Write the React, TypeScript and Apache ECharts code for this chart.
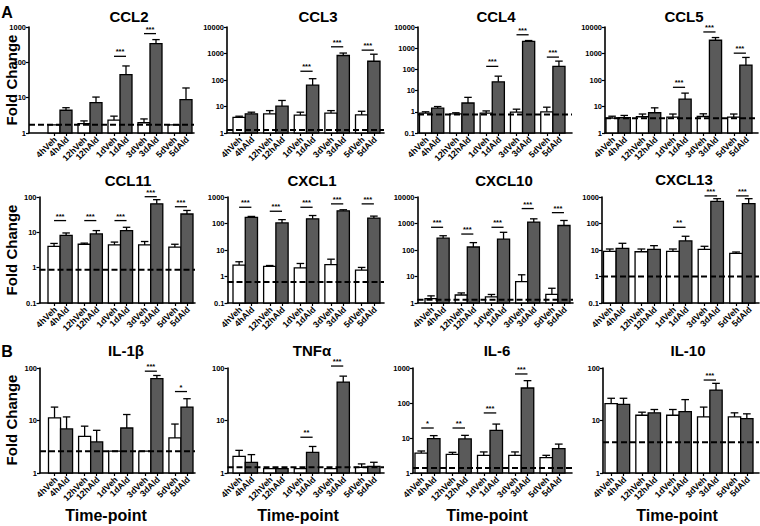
import React, { useEffect, useRef } from "react";
import * as echarts from "echarts";

// ---------------- DATA ----------------
const categories = ["4hVeh", "4hAld", "12hVeh", "12hAld", "1dVeh", "1dAld", "3dVeh", "3dAld", "5dVeh", "5dAld"];

// [groupIndex, number of stars, height of the significance bar]
type Sig = [number, number, number][];

const ccl2Mean = [1.7, 4.4, 1.85, 7.2, 2.3, 45, 1.95, 340, 1.7, 8.8];
const ccl2Sem = [0, 0.8, 0.35, 3.2, 0.7, 34, 0.55, 100, 0, 10];
const ccl2Sig: Sig = [[2, 3, 148], [3, 3, 650]];
const ccl2Base = 1.7;

const ccl3Mean = [3.9, 5.3, 5.3, 10.3, 4.7, 64, 5.6, 840, 4.8, 510];
const ccl3Sem = [0.4, 0.8, 1.7, 6.6, 1.4, 48, 1.4, 200, 1.8, 430];
const ccl3Sig: Sig = [[2, 3, 214], [3, 3, 1790], [4, 3, 1340]];
const ccl3Base = 1.3;

const ccl4Mean = [0.87, 1.48, 0.8, 2.6, 0.87, 26, 0.96, 2100, 1.0, 139];
const ccl4Sem = [0.13, 0.29, 0.1, 2.2, 0.23, 22, 0.37, 200, 0.65, 107];
const ccl4Sig: Sig = [[2, 3, 139], [3, 3, 4300], [4, 3, 380]];
const ccl4Base = 0.75;

const ccl5Mean = [3.65, 3.8, 4.1, 5.8, 4.0, 19, 4.2, 3160, 4.0, 365];
const ccl5Sem = [0.65, 0.8, 1.1, 3.1, 1.2, 13, 1.1, 840, 1.2, 345];
const ccl5Sig: Sig = [[2, 3, 53], [3, 3, 6500], [4, 3, 1030]];
const ccl5Base = 3.6;

const ccl11Mean = [4.0, 8.2, 4.6, 9.0, 4.4, 11.2, 4.4, 64, 3.8, 33];
const ccl11Sem = [0.85, 1.4, 0.35, 2.2, 0.9, 2.7, 1.1, 20, 0.8, 8.6];
const ccl11Sig: Sig = [[0, 3, 21.5], [1, 3, 21.5], [2, 3, 21.5], [3, 3, 102], [4, 3, 53]];
const ccl11Base = 0.87;

const cxcl1Mean = [2.7, 170, 2.4, 105, 2.1, 150, 2.8, 300, 1.75, 160];
const cxcl1Sem = [0.9, 15, 0.2, 35, 1.0, 50, 1.7, 30, 0.45, 30];
const cxcl1Sig: Sig = [[0, 3, 410], [1, 3, 290], [2, 3, 410], [3, 3, 550], [4, 3, 550]];
const cxcl1Base = 0.62;

const cxcl10Mean = [1.47, 280, 2.0, 130, 1.7, 257, 6.4, 1130, 2.1, 840];
const cxcl10Sem = [0.39, 65, 0.4, 60, 0.4, 208, 5.2, 370, 1.5, 460];
const cxcl10Sig: Sig = [[0, 3, 720], [1, 3, 400], [2, 3, 720], [3, 3, 3660], [4, 3, 2570]];
const cxcl10Base = 1.34;

const cxcl13Mean = [8.9, 11.6, 8.6, 10.6, 8.9, 22, 10.6, 684, 7.5, 560];
const cxcl13Sem = [2.0, 6.3, 2.3, 4.0, 2.0, 11, 3.2, 180, 0.9, 305];
const cxcl13Sig: Sig = [[2, 2, 72], [3, 3, 1100], [4, 3, 1100]];
const cxcl13Base = 1.0;

const il1bMean = [11.2, 6.9, 5.0, 3.9, 2.6, 7.2, 2.6, 62.5, 4.66, 18];
const il1bSem = [6.8, 4.8, 2.8, 2.6, 0, 5.8, 0, 9.5, 3.9, 8];
const il1bSig: Sig = [[3, 3, 87], [4, 1, 35.6]];
const il1bBase = 2.6;

const tnfMean = [2.08, 1.6, 1.21, 1.21, 1.21, 2.48, 1.21, 54, 1.28, 1.34];
const tnfSem = [0.62, 0.64, 0, 0, 0, 0.72, 0, 16, 0.21, 0.26];
const tnfSig: Sig = [[2, 2, 4.8], [3, 3, 109]];
const tnfBase = 1.28;

const il6Mean = [3.7, 9.6, 3.4, 9.4, 3.2, 16.6, 3.2, 268, 2.74, 4.96];
const il6Sem = [0.55, 2.1, 0.5, 2.5, 0.8, 8.4, 0.8, 167, 0.46, 1.74];
const il6Sig: Sig = [[0, 1, 19.3], [1, 2, 19.3], [2, 3, 52], [3, 3, 675]];
const il6Base = 1.39;

const il10Mean = [21, 20.2, 12.6, 14, 12.6, 14.7, 11.7, 38, 11.7, 10.9];
const il10Sem = [5.5, 6.3, 1.8, 2.2, 3.6, 10.3, 6.3, 13, 2.3, 2.5];
const il10Sig: Sig = [[3, 3, 59]];
const il10Base = 3.86;

// ---------------- LAYOUT ----------------
const FONT = '"Liberation Sans", Arial, Helvetica, sans-serif';
const DARK = "#5a5a5a";

type Panel = {
  title: string; mean: number[]; sem: number[]; sig: Sig; base: number;
  yMin: number; yMax: number;
  axisX: number; barStart: number; barEnd: number; endX: number; top: number; bottom: number;
  titleX: number; titleY: number;
};

const panels: Panel[] = [
  { title: "CCL2", mean: ccl2Mean, sem: ccl2Sem, sig: ccl2Sig, base: ccl2Base, yMin: 1, yMax: 1000,
    axisX: 29, barStart: 48, barEnd: 192, endX: 194, top: 27, bottom: 133, titleX: 129, titleY: 16 },
  { title: "CCL3", mean: ccl3Mean, sem: ccl3Sem, sig: ccl3Sig, base: ccl3Base, yMin: 1, yMax: 10000,
    axisX: 227, barStart: 233, barEnd: 380, endX: 384, top: 27, bottom: 133, titleX: 318, titleY: 16 },
  { title: "CCL4", mean: ccl4Mean, sem: ccl4Sem, sig: ccl4Sig, base: ccl4Base, yMin: 0.1, yMax: 10000,
    axisX: 418, barStart: 419.5, barEnd: 565, endX: 572, top: 27, bottom: 133, titleX: 496, titleY: 16 },
  { title: "CCL5", mean: ccl5Mean, sem: ccl5Sem, sig: ccl5Sig, base: ccl5Base, yMin: 1, yMax: 10000,
    axisX: 605, barStart: 606, barEnd: 752, endX: 758, top: 27, bottom: 133, titleX: 684, titleY: 16 },

  { title: "CCL11", mean: ccl11Mean, sem: ccl11Sem, sig: ccl11Sig, base: ccl11Base, yMin: 0.1, yMax: 100,
    axisX: 39.5, barStart: 48, barEnd: 193, endX: 195, top: 197, bottom: 303, titleX: 128, titleY: 180 },
  { title: "CXCL1", mean: cxcl1Mean, sem: cxcl1Sem, sig: cxcl1Sig, base: cxcl1Base, yMin: 0.1, yMax: 1000,
    axisX: 227.5, barStart: 233, barEnd: 380, endX: 384, top: 197, bottom: 303, titleX: 312, titleY: 180 },
  { title: "CXCL10", mean: cxcl10Mean, sem: cxcl10Sem, sig: cxcl10Sig, base: cxcl10Base, yMin: 1, yMax: 10000,
    axisX: 417.5, barStart: 425, barEnd: 570, endX: 573, top: 197, bottom: 303, titleX: 504, titleY: 180 },
  { title: "CXCL13", mean: cxcl13Mean, sem: cxcl13Sem, sig: cxcl13Sig, base: cxcl13Base, yMin: 0.1, yMax: 1000,
    axisX: 602, barStart: 603.5, barEnd: 755, endX: 759, top: 197, bottom: 303, titleX: 684, titleY: 179 },

  { title: "IL-1β", mean: il1bMean, sem: il1bSem, sig: il1bSig, base: il1bBase, yMin: 1, yMax: 100,
    axisX: 40, barStart: 48.5, barEnd: 193, endX: 195, top: 368, bottom: 473, titleX: 126, titleY: 350 },
  { title: "TNFα", mean: tnfMean, sem: tnfSem, sig: tnfSig, base: tnfBase, yMin: 1, yMax: 100,
    axisX: 227.5, barStart: 233, barEnd: 380, endX: 384, top: 368, bottom: 473, titleX: 312, titleY: 350 },
  { title: "IL-6", mean: il6Mean, sem: il6Sem, sig: il6Sig, base: il6Base, yMin: 1, yMax: 1000,
    axisX: 413, barStart: 415, barEnd: 565, endX: 572, top: 368, bottom: 473, titleX: 497, titleY: 350 },
  { title: "IL-10", mean: il10Mean, sem: il10Sem, sig: il10Sig, base: il10Base, yMin: 1, yMax: 100,
    axisX: 603, barStart: 605, barEnd: 753, endX: 759, top: 368, bottom: 473, titleX: 688, titleY: 350 },
];

// bar centre positions in "bar width" units: pairs touching, small gap between pairs
const barPos = categories.map((_, i) => Math.floor(i / 2) * 2.5 + (i % 2) + 0.5);

function yLabel(v: number): string {
  return v < 1 ? String(Number(v.toPrecision(1))) : String(Math.round(v));
}

function buildOption() {
  const grid: any[] = [];
  const xAxis: any[] = [];
  const yAxis: any[] = [];
  const series: any[] = [];
  const graphic: any[] = [];

  panels.forEach((p, k) => {
    const unit = (p.barEnd - p.barStart) / 12;
    const xMin = -(p.barStart - p.axisX) / unit;
    const xMax = 12 + (p.endX - p.barEnd) / unit;
    grid.push({ left: p.axisX, top: p.top, width: p.endX - p.axisX, height: p.bottom - p.top });
    xAxis.push({
      type: "value", gridIndex: k, min: xMin, max: xMax,
      splitLine: { show: false },
      axisLine: { onZero: false, lineStyle: { color: "#000", width: 1.6 } },
      axisTick: { show: true, customValues: barPos, length: 3, lineStyle: { color: "#000", width: 1.2 } },
      axisLabel: { show: false },
    });
    yAxis.push({
      type: "log", logBase: 10, gridIndex: k, min: p.yMin, max: p.yMax,
      splitLine: { show: false },
      axisLine: { show: true, onZero: false, lineStyle: { color: "#000", width: 1.6 } },
      axisTick: { show: true, length: 3, lineStyle: { color: "#000", width: 1.2 } },
      minorTick: { show: false },
      axisLabel: {
        formatter: (v: number) => yLabel(v), showMinLabel: true, showMaxLabel: true,
        fontSize: 7.5, fontWeight: "bold", color: "#000", margin: 3, fontFamily: FONT,
      },
    });

    const yMin = p.yMin;
    // bars + error bars
    series.push({
      type: "custom", xAxisIndex: k, yAxisIndex: k, clip: false,
      encode: { x: 0, y: 1 },
      data: p.mean.map((m, i) => [barPos[i], m, p.sem[i], i % 2]),
      renderItem: (params: any, api: any) => {
        const x = api.value(0), v = api.value(1), e = api.value(2), ald = api.value(3);
        const top = api.coord([x, v]);
        const base = api.coord([x, yMin]);
        const left = api.coord([x - 0.5, v])[0];
        const right = api.coord([x + 0.5, v])[0];
        const w = right - left;
        const children: any[] = [];
        if (e > 0) {
          const et = api.coord([x, v + e]);
          const cw = w * 0.62;
          children.push(
            { type: "line", shape: { x1: top[0], y1: top[1], x2: top[0], y2: et[1] }, style: { stroke: "#000", lineWidth: 1.3 } },
            { type: "line", shape: { x1: top[0] - cw / 2, y1: et[1], x2: top[0] + cw / 2, y2: et[1] }, style: { stroke: "#000", lineWidth: 1.3 } },
          );
        }
        children.push({
          type: "rect", shape: { x: left, y: top[1], width: w, height: base[1] - top[1] },
          style: { fill: ald ? DARK : "#fff", stroke: "#000", lineWidth: 1.3 },
        });
        return { type: "group", children };
      },
      z: 2,
    });

    // rotated category labels under each bar
    series.push({
      type: "custom", xAxisIndex: k, yAxisIndex: k, clip: false, silent: true,
      encode: { x: 0 },
      data: categories.map((_, i) => [barPos[i], i]),
      renderItem: (params: any, api: any) => {
        const pt = api.coord([api.value(0), yMin]);
        return {
          type: "text", x: pt[0] + 1.5, y: pt[1] + 5, rotation: Math.PI / 4,
          style: {
            text: categories[api.value(1)], fill: "#000", font: `bold 8.7px ${FONT}`,
            align: "right", verticalAlign: "middle", textAlign: "right", textVerticalAlign: "middle",
          },
        };
      },
      z: 2,
    });

    // significance bars
    series.push({
      type: "custom", xAxisIndex: k, yAxisIndex: k, clip: false,
      encode: { x: [0, 1], y: 2 },
      data: p.sig.map(([g, n, h]) => [barPos[2 * g], barPos[2 * g + 1], h, n]),
      renderItem: (params: any, api: any) => {
        const a = api.coord([api.value(0), api.value(2)]);
        const b = api.coord([api.value(1), api.value(2)]);
        const n = api.value(3);
        return {
          type: "group",
          children: [
            { type: "line", shape: { x1: a[0], y1: a[1], x2: b[0], y2: b[1] }, style: { stroke: "#000", lineWidth: 1.3 } },
            {
              type: "text", x: (a[0] + b[0]) / 2, y: a[1] - 0.5,
              style: {
                text: "*".repeat(n), fill: "#000", font: `bold 7.5px ${FONT}`,
                align: "center", verticalAlign: "bottom", textAlign: "center", textVerticalAlign: "bottom",
              },
            },
          ],
        };
      },
      z: 3,
    });

    // dashed baseline
    series.push({
      type: "line", xAxisIndex: k, yAxisIndex: k, symbol: "none", silent: true,
      data: [[xMin, p.base], [xMax, p.base]],
      lineStyle: { color: "#000", width: 2, type: [6, 3] },
      z: 4,
    });

    graphic.push({
      type: "text", x: p.titleX, y: p.titleY,
      style: {
        text: p.title, fill: "#000", font: `bold 15px ${FONT}`,
        align: "center", verticalAlign: "middle", textAlign: "center", textVerticalAlign: "middle",
      },
    });
  });

  const rowMid = [80, 250, 420];
  rowMid.forEach((y) => {
    graphic.push({
      type: "text", x: 11, y, rotation: Math.PI / 2,
      style: {
        text: "Fold Change", fill: "#000", font: `bold 15px ${FONT}`,
        align: "center", verticalAlign: "middle", textAlign: "center", textVerticalAlign: "middle",
      },
    });
  });
  [106, 298, 487, 677].forEach((x) => {
    graphic.push({
      type: "text", x, y: 515,
      style: {
        text: "Time-point", fill: "#000", font: `bold 16px ${FONT}`,
        align: "center", verticalAlign: "middle", textAlign: "center", textVerticalAlign: "middle",
      },
    });
  });
  [["A", 12], ["B", 351]].forEach(([t, y]) => {
    graphic.push({
      type: "text", x: 7, y,
      style: {
        text: t, fill: "#000", font: `bold 16px ${FONT}`,
        align: "center", verticalAlign: "middle", textAlign: "center", textVerticalAlign: "middle",
      },
    });
  });

  return { animation: false, backgroundColor: "#fff", grid, xAxis, yAxis, series, graphic };
}

export default function App() {
  const ref = useRef<HTMLDivElement>(null);
  useEffect(() => {
    const chart = echarts.init(ref.current!, null, { renderer: "svg" });
    chart.setOption(buildOption() as any);
    return () => chart.dispose();
  }, []);
  return <div ref={ref} style={{ position: "fixed", left: 0, top: 0, width: 760, height: 526 }} />;
}
